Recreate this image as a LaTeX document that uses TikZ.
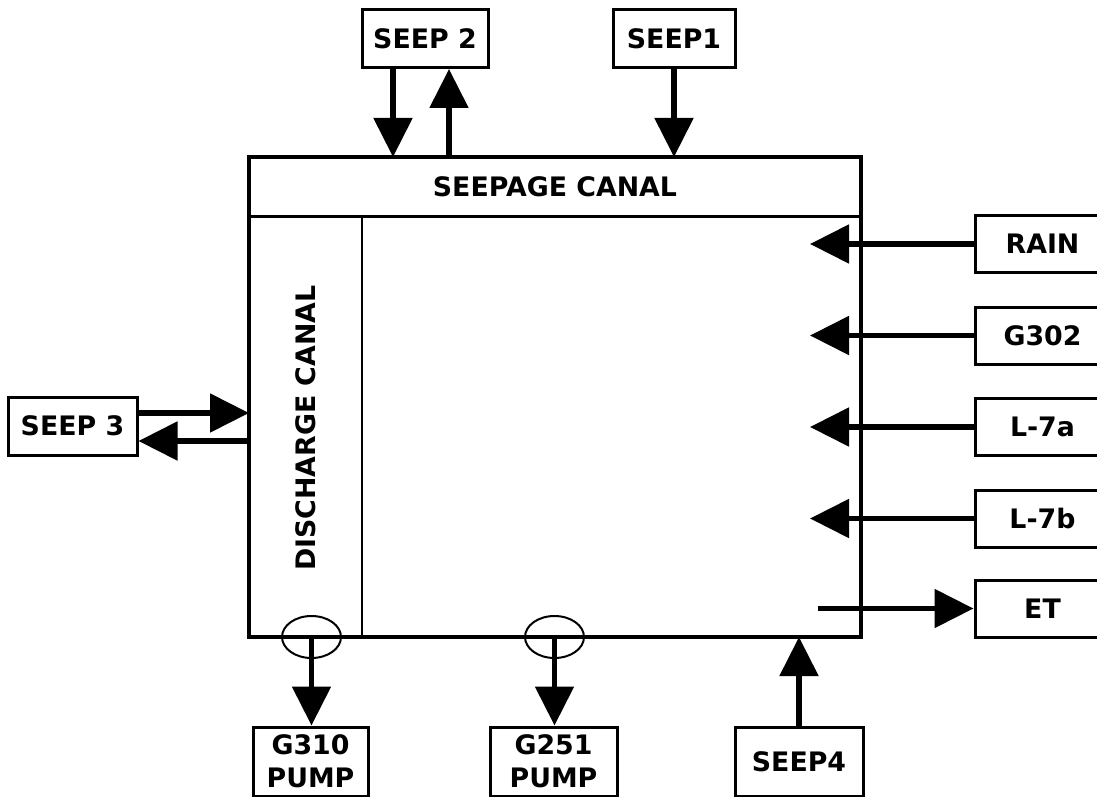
\documentclass[tikz,border=0pt]{standalone}
\usepackage{fontspec}
\setmainfont{DejaVu Sans}
\usetikzlibrary{arrows.meta,calc,positioning,shapes.geometric}

\begin{document}
\begin{tikzpicture}[x=0.5pt,y=-0.5pt,
  font=\fontsize{13.4}{16.5}\selectfont\bfseries,
  srcbox/.style={draw,line width=1.5pt,minimum height=29pt,inner sep=0pt,align=center},
  flow/.style={line width=2.6pt,-{Triangle[length=19.5pt,width=19pt]}},
  pumpring/.style={draw,ellipse,line width=1pt,minimum width=29.5pt,minimum height=21pt,inner sep=0pt}]
\clip (0,0) rectangle (1097,797);
% water budget box
\node[draw,line width=2.4pt,minimum width=306pt,minimum height=240pt,inner sep=0pt,outer sep=0pt] (main) at (555,397) {};
\draw[line width=1.5pt] (249,216) -- (861,216);
\draw[line width=1.2pt] (362,216) -- (362,637);
\node (seepage) at (555,186.5) {SEEPAGE CANAL};
\node[rotate=90] (discharge) at (305.5,428) {DISCHARGE CANAL};
\node[pumpring] (v310) at (311.5,637) {};
\node[pumpring] (v251) at (554.5,637) {};
% top
\node[srcbox,minimum width=63pt] (seep2) at (425,38.5) {SEEP 2};
\node[srcbox,minimum width=61pt] (seep1) at (674,38.5) {SEEP1};
\draw[flow] ([xshift=-16pt]seep2.south) -- ([xshift=-16pt]seep2.south |- main.north);
\draw[flow] ([xshift=12pt]seep2.south |- main.north) -- ([xshift=12pt]seep2.south);
\draw[flow] (seep1.south) -- (seep1.south |- main.north);
% left
\node[srcbox,minimum width=64.5pt] (seep3) at (72.5,426) {SEEP 3};
\draw[flow] ([yshift=6.5pt]seep3.east) -- ([yshift=6.5pt]seep3.east -| main.west);
\draw[flow] ([yshift=-7.5pt]seep3.east -| main.west) -- ([yshift=-7.5pt]seep3.east);
% right
\foreach \nm/\txt/\yy in {rain/RAIN/244,g302/G302/335.5,l7a/L-7a/427,l7b/L-7b/518.5}{
  \node[srcbox,minimum width=67.5pt,minimum height=28.5pt] (\nm) at (1042.5,\yy) {\txt};
  \draw[flow] (\nm.west) -- ([xshift=-25.5pt]\nm.west -| main.east);
}
\node[srcbox,minimum width=67.5pt,minimum height=28.5pt] (et) at (1042.5,608.5) {ET};
\draw[flow] ([xshift=-21.5pt]et.west -| main.east) -- (et.west);
% bottom
\node[srcbox,minimum width=57.5pt,minimum height=34.5pt] (g310) at (310.5,761.5) {G310\\PUMP};
\node[srcbox,minimum width=63.5pt,minimum height=34.5pt] (g251) at (553.5,761.5) {G251\\PUMP};
\node[srcbox,minimum width=64pt,minimum height=34.5pt] (seep4) at (799,762) {SEEP4};
\draw[flow] (v310.center) -- (v310.center |- g310.north);
\draw[flow] (v251.center) -- (v251.center |- g251.north);
\draw[flow] (seep4.north) -- (seep4.north |- main.south);
\end{tikzpicture}
\end{document}
